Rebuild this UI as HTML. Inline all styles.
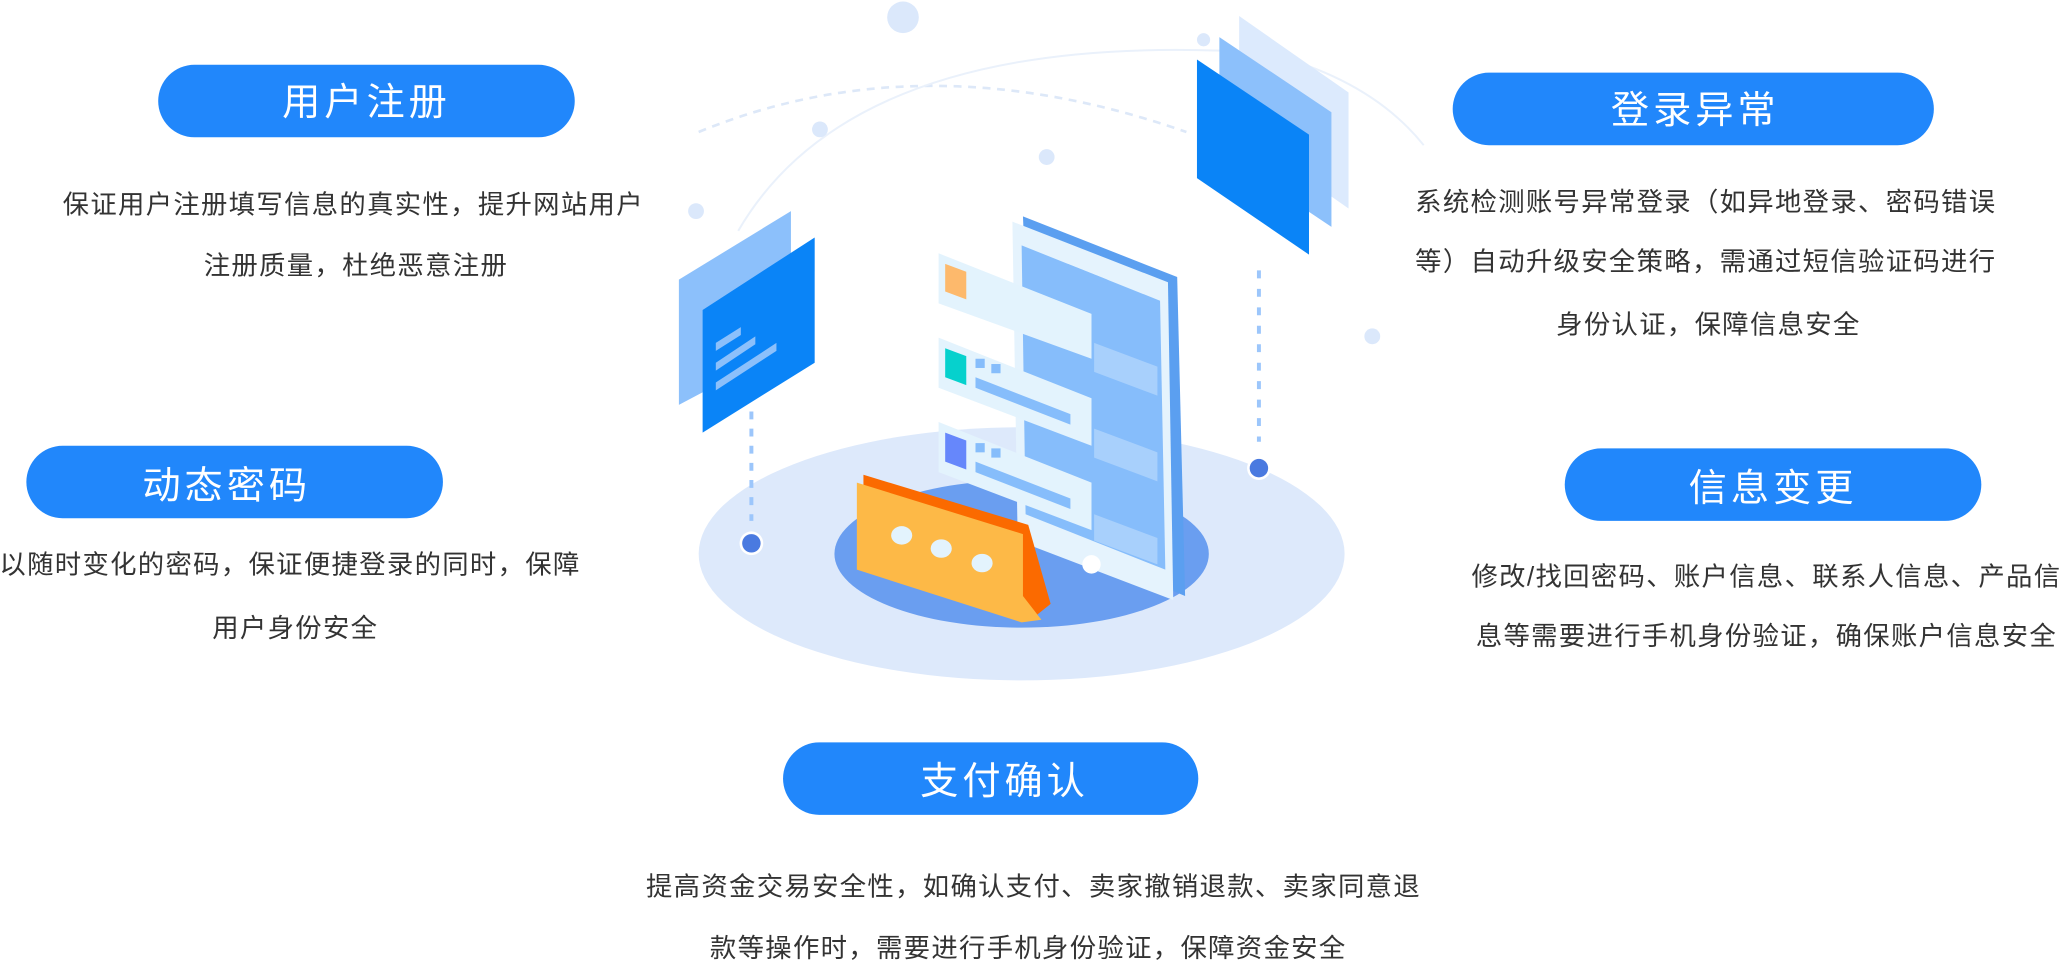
<!DOCTYPE html>
<html><head><meta charset="utf-8"><style>
html,body{margin:0;padding:0;background:#fff;width:2067px;height:964px;overflow:hidden}
svg{display:block}
text{font-family:"Liberation Sans","Noto Sans CJK SC",sans-serif}
.pt{fill:#fff;font-size:29px;text-anchor:middle;letter-spacing:3px}
.dt{fill:#333;font-size:20px;text-anchor:middle;letter-spacing:1px}
</style></head><body>
<svg width="2067" height="964" viewBox="0 0 1568 731" xmlns="http://www.w3.org/2000/svg">
<path d="M530 100 Q700 30 900 100" fill="none" stroke="#dde8f8" stroke-width="2" stroke-dasharray="6 5"/>
<path d="M560 175 Q650 20 960 40 Q1040 60 1080 110" fill="none" stroke="#eaf1fb" stroke-width="1.5"/>
<circle cx="685" cy="13" r="12" fill="#dbe8fb"/>
<circle cx="622" cy="98" r="6" fill="#dbe8fb"/>
<circle cx="794" cy="119" r="6" fill="#dbe8fb"/>
<circle cx="528" cy="160" r="6" fill="#dbe8fb"/>
<circle cx="1041" cy="255" r="6" fill="#dbe8fb"/>
<circle cx="913" cy="30" r="5" fill="#dbe8fb"/>
<ellipse cx="775" cy="420" rx="245" ry="96" fill="#dde9fb"/>
<ellipse cx="775" cy="420" rx="142" ry="56" fill="#6a9ef0"/>
<polygon points="515,212 600,160 600,262 515,307" fill="#8cc0fb"/>
<polygon points="533,235 618,180 618,275 533,328" fill="#0a84f7"/>
<polygon points="543,260 562,248 562,254 543,266" fill="#8cc0fb"/>
<polygon points="543,275 573,255 573,261 543,281" fill="#8cc0fb"/>
<polygon points="543,290 589,260 589,266 543,296" fill="#8cc0fb"/>
<line x1="570" y1="312" x2="570" y2="395" stroke="#9cc6fb" stroke-width="3" stroke-dasharray="6 7"/>
<circle cx="570" cy="412" r="9" fill="#fff"/><circle cx="570" cy="412" r="7" fill="#4a7ae0"/>
<polygon points="940,12 1023,70 1023,158 940,100" fill="#dceafd"/>
<polygon points="925,28 1010,85 1010,172 925,115" fill="#8cc0fb"/>
<polygon points="908,45 993,102 993,193 908,135" fill="#0a84f7"/>
<line x1="955" y1="205" x2="955" y2="335" stroke="#9cc6fb" stroke-width="3" stroke-dasharray="6 8"/>
<circle cx="955" cy="355" r="9" fill="#fff"/><circle cx="955" cy="355" r="7" fill="#4a7ae0"/>
<polygon points="776,164 893,210 899,452 786,405" fill="#5b9ff0"/>
<polygon points="768,168 886,214 890,455 772,410" fill="#e5f3fd"/>
<polygon points="775,186 880,228 884,432 778,390" fill="#86bdfb"/>
<polygon points="810,200 840,212 840,216 810,204" fill="#86bdfb"/>
<polygon points="830,260 878,278 878,300 830,282" fill="#a8d0fc"/>
<polygon points="830,325 878,343 878,365 830,347" fill="#a8d0fc"/>
<polygon points="830,390 878,408 878,428 830,410" fill="#a8d0fc"/>
<polygon points="712,192 828,238 828,272 712,230" fill="#e3f3fd"/>
<polygon points="717,200 733,206 733,227 717,221" fill="#fdb96c"/>
<polygon points="712,256 828,302 828,338 712,294" fill="#e3f3fd"/>
<polygon points="717,264 733,270 733,292 717,286" fill="#06d1cd"/>
<polygon points="740,286 812,314 812,322 740,294" fill="#86bdfb"/>
<rect x="740" y="272" width="7" height="7" fill="#86bdfb"/><rect x="752" y="276" width="7" height="7" fill="#86bdfb"/>
<polygon points="712,320 828,366 828,402 712,358" fill="#e3f3fd"/>
<polygon points="717,328 733,334 733,356 717,350" fill="#6687fb"/>
<polygon points="740,350 812,378 812,386 740,358" fill="#86bdfb"/>
<rect x="740" y="336" width="7" height="7" fill="#86bdfb"/><rect x="752" y="340" width="7" height="7" fill="#86bdfb"/>
<circle cx="828" cy="428" r="7" fill="#fff"/>
<polygon points="655,360 780,398 797,458 782,470 655,430" fill="#fb6a00"/>
<polygon points="650,366 776,405 776,452 790,470 775,472 650,432" fill="#fdb947"/>
<ellipse cx="684" cy="406" rx="8" ry="7" fill="#e3f3fd"/>
<ellipse cx="714" cy="416" rx="8" ry="7" fill="#e3f3fd"/>
<ellipse cx="745" cy="427" rx="8" ry="7" fill="#e3f3fd"/>
<rect x="120" y="49" width="316" height="55" rx="27.5" fill="#2187fb"/>
<text class="pt" x="278" y="87">用户注册</text>
<rect x="1102" y="55" width="365" height="55" rx="27.5" fill="#2187fb"/>
<text class="pt" x="1286" y="93">登录异常</text>
<rect x="20" y="338" width="316" height="55" rx="27.5" fill="#2187fb"/>
<text class="pt" x="172" y="378">动态密码</text>
<rect x="1187" y="340" width="316" height="55" rx="27.5" fill="#2187fb"/>
<text class="pt" x="1345" y="380">信息变更</text>
<rect x="594" y="563" width="315" height="55" rx="27.5" fill="#2187fb"/>
<text class="pt" x="762" y="602">支付确认</text>
<text class="dt" x="268" y="162">保证用户注册填写信息的真实性，提升网站用户</text>
<text class="dt" x="270" y="208">注册质量，杜绝恶意注册</text>
<text class="dt" x="1294" y="160">系统检测账号异常登录（如异地登录、密码错误</text>
<text class="dt" x="1294" y="205">等）自动升级安全策略，需通过短信验证码进行</text>
<text class="dt" x="1296" y="253">身份认证，保障信息安全</text>
<text class="dt" x="220" y="435">以随时变化的密码，保证便捷登录的同时，保障</text>
<text class="dt" x="224" y="483">用户身份安全</text>
<text class="dt" x="1340" y="444">修改/找回密码、账户信息、联系人信息、产品信</text>
<text class="dt" x="1340" y="489">息等需要进行手机身份验证，确保账户信息安全</text>
<text class="dt" x="784" y="679">提高资金交易安全性，如确认支付、卖家撤销退款、卖家同意退</text>
<text class="dt" x="780" y="726">款等操作时，需要进行手机身份验证，保障资金安全</text>
</svg>
</body></html>
